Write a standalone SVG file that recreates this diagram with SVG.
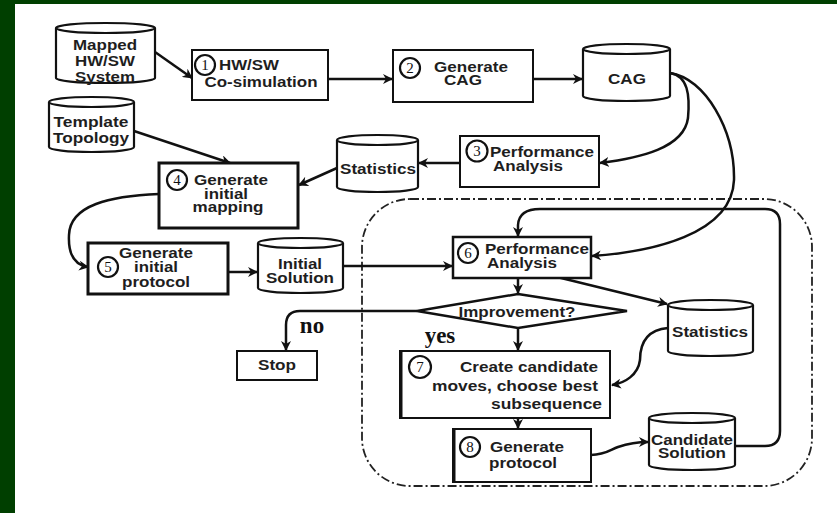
<svg xmlns="http://www.w3.org/2000/svg" width="837" height="513" viewBox="0 0 837 513">
  <style>
    .t { font-family: "Liberation Sans", Arial, sans-serif; font-weight: bold; font-size: 14.5px; fill: #1e1e1e; text-anchor: middle; }
    .r { text-anchor: end; }
    .s { text-anchor: start; }
    .num { font-family: "Liberation Serif", "Times New Roman", serif; font-size: 15px; fill: #111; text-anchor: middle; }
    .lbl { font-family: "Liberation Serif", "Times New Roman", serif; font-weight: bold; font-size: 23px; fill: #111; text-anchor: middle; }
    .box { fill: #fff; stroke: #111; stroke-width: 2; }
    .thick { stroke-width: 3; }
    .cyl { fill: #fff; stroke: #111; stroke-width: 2.2; }
    .circ { fill: #fff; stroke: #111; stroke-width: 2.2; }
    .conn { fill: none; stroke: #111; stroke-width: 2.5; marker-end: url(#arrow); }
    .region { fill: none; stroke: #222; stroke-width: 1.8; stroke-dasharray: 9 3 2 3; }
  </style>
  <defs>
    <marker id="arrow" viewBox="0 0 10 10" refX="9" refY="5" markerWidth="4" markerHeight="4" orient="auto" markerUnits="strokeWidth">
      <path d="M0,0 L10,5 L0,10 L3,5 z" fill="#111"/>
    </marker>
  </defs>

  <!-- frame -->
  <rect x="0" y="0" width="837" height="513" fill="#003f00"/>
  <rect x="15" y="4" width="822" height="509" fill="#ffffff"/>

  <!-- dash-dot region around the optimisation loop -->
  <rect class="region" x="362" y="199" width="450" height="287" rx="48" ry="48"/>

  <!-- connectors -->
  <g id="connectors">
    <path class="conn" d="M155,52 L192,78"/>
    <path class="conn" d="M328,79 L392,79"/>
    <path class="conn" d="M533,79 L582,79"/>
    <path class="conn" d="M670,73 C688,76 690,95 688,118 C684,148 640,158 600,163"/>
    <path class="conn" d="M670,73 C705,78 735,130 734,180 C732,235 650,252 592,256"/>
    <path class="conn" d="M460,163 L419,163"/>
    <path class="conn" d="M337,168 L299,185"/>
    <path class="conn" d="M134,131 L230,163"/>
    <path class="conn" d="M159,194 C110,196 70,205 69,235 C68,255 75,265 88,267"/>
    <path class="conn" d="M228,272 L257,272"/>
    <path class="conn" d="M343,266 L452,266"/>
    <path class="conn" d="M518,278 L518,293"/>
    <path class="conn" d="M557,277 L667,304"/>
    <path class="conn" d="M417,311 H300 Q286,311 286,325 V350"/>
    <path class="conn" d="M518,328 L518,350"/>
    <path class="conn" d="M668,328 C645,330 640,345 640,360 C638,375 625,383 612,385"/>
    <path class="conn" d="M518,418 L518,428"/>
    <path class="conn" d="M591,455 C605,455 610,450 618,447 C630,443 638,442 648,442"/>
    <path class="conn" d="M735,446 H765 Q780,446 780,431 V224 Q780,209 765,209 H540 Q519,209 518,225 V236"/>
  </g>

  <!-- data stores -->
  <g id="mapped-system">
    <path class="cyl" d="M56,28 V78 A49.5,5 0 0 0 155,78 V28"/>
    <ellipse class="cyl" cx="105.5" cy="28" rx="49.5" ry="5"/>
    <text class="t" x="105" y="50" textLength="64" lengthAdjust="spacingAndGlyphs">Mapped</text>
    <text class="t" x="105" y="66" textLength="60" lengthAdjust="spacingAndGlyphs">HW/SW</text>
    <text class="t" x="105" y="82" textLength="60" lengthAdjust="spacingAndGlyphs">System</text>
  </g>
  <g id="template-topology">
    <path class="cyl" d="M49,102 V147 A42.5,5 0 0 0 134,147 V102"/>
    <ellipse class="cyl" cx="91.5" cy="102" rx="42.5" ry="5"/>
    <text class="t" x="91" y="127" textLength="75" lengthAdjust="spacingAndGlyphs">Template</text>
    <text class="t" x="91" y="143" textLength="76" lengthAdjust="spacingAndGlyphs">Topology</text>
  </g>
  <g id="cag">
    <path class="cyl" d="M583,49 V96 A43.5,5 0 0 0 670,96 V49"/>
    <ellipse class="cyl" cx="626.5" cy="49" rx="43.5" ry="5"/>
    <text class="t" x="627" y="84" textLength="38" lengthAdjust="spacingAndGlyphs">CAG</text>
  </g>
  <g id="statistics-initial">
    <path class="cyl" d="M337,140 V187 A40.5,5 0 0 0 418,187 V140"/>
    <ellipse class="cyl" cx="377.5" cy="140" rx="40.5" ry="5"/>
    <text class="t" x="378" y="174" textLength="76" lengthAdjust="spacingAndGlyphs">Statistics</text>
  </g>
  <g id="initial-solution">
    <path class="cyl" d="M258,243 V288 A42.5,5 0 0 0 343,288 V243"/>
    <ellipse class="cyl" cx="300.5" cy="243" rx="42.5" ry="5"/>
    <text class="t" x="300" y="269" textLength="44" lengthAdjust="spacingAndGlyphs">Initial</text>
    <text class="t" x="300" y="283" textLength="68" lengthAdjust="spacingAndGlyphs">Solution</text>
  </g>
  <g id="statistics-loop">
    <path class="cyl" d="M668,305 V351 A42.5,5 0 0 0 753,351 V305"/>
    <ellipse class="cyl" cx="710.5" cy="305" rx="42.5" ry="5"/>
    <text class="t" x="710" y="337" textLength="76" lengthAdjust="spacingAndGlyphs">Statistics</text>
  </g>
  <g id="candidate-solution">
    <path class="cyl" d="M649,418 V465 A43,5 0 0 0 735,465 V418"/>
    <ellipse class="cyl" cx="692" cy="418" rx="43" ry="5"/>
    <text class="t" x="692" y="445" textLength="82" lengthAdjust="spacingAndGlyphs">Candidate</text>
    <text class="t" x="692" y="458" textLength="68" lengthAdjust="spacingAndGlyphs">Solution</text>
  </g>

  <!-- process steps -->
  <g id="step1">
    <rect class="box" x="192" y="50" width="136" height="50"/>
    <circle class="circ" cx="205" cy="65" r="10"/>
    <text class="num" x="205" y="70">1</text>
    <text class="t s" x="219" y="70" textLength="60" lengthAdjust="spacingAndGlyphs">HW/SW</text>
    <text class="t" x="261" y="87" textLength="113" lengthAdjust="spacingAndGlyphs">Co-simulation</text>
  </g>
  <g id="step2">
    <rect class="box" x="393" y="50" width="140" height="52"/>
    <circle class="circ" cx="410" cy="68" r="10"/>
    <text class="num" x="410" y="73">2</text>
    <text class="t" x="471" y="72" textLength="74" lengthAdjust="spacingAndGlyphs">Generate</text>
    <text class="t" x="463" y="85" textLength="38" lengthAdjust="spacingAndGlyphs">CAG</text>
  </g>
  <g id="step3">
    <rect class="box" x="460" y="136" width="139" height="51"/>
    <circle class="circ" cx="477" cy="151" r="10.5"/>
    <text class="num" x="477" y="156">3</text>
    <text class="t" x="542" y="157" textLength="104" lengthAdjust="spacingAndGlyphs">Performance</text>
    <text class="t" x="528" y="171" textLength="70" lengthAdjust="spacingAndGlyphs">Analysis</text>
  </g>
  <g id="step4">
    <rect class="box thick" x="159" y="163" width="139" height="65"/>
    <circle class="circ" cx="177" cy="180" r="10"/>
    <text class="num" x="177" y="185">4</text>
    <text class="t" x="231" y="185" textLength="74" lengthAdjust="spacingAndGlyphs">Generate</text>
    <text class="t" x="226" y="199" textLength="44" lengthAdjust="spacingAndGlyphs">initial</text>
    <text class="t" x="228" y="212" textLength="71" lengthAdjust="spacingAndGlyphs">mapping</text>
  </g>
  <g id="step5">
    <rect class="box thick" x="88" y="243" width="140" height="51"/>
    <circle class="circ" cx="108" cy="267" r="10"/>
    <text class="num" x="108" y="272">5</text>
    <text class="t" x="156" y="258" textLength="74" lengthAdjust="spacingAndGlyphs">Generate</text>
    <text class="t" x="156" y="272" textLength="44" lengthAdjust="spacingAndGlyphs">initial</text>
    <text class="t" x="156" y="287" textLength="68" lengthAdjust="spacingAndGlyphs">protocol</text>
  </g>
  <g id="step6">
    <rect class="box" x="453" y="237" width="138" height="41" style="stroke-width:2.5"/>
    <circle class="circ" cx="468" cy="253" r="10"/>
    <text class="num" x="468" y="258">6</text>
    <text class="t" x="537" y="254" textLength="104" lengthAdjust="spacingAndGlyphs">Performance</text>
    <text class="t" x="522" y="268" textLength="70" lengthAdjust="spacingAndGlyphs">Analysis</text>
  </g>
  <g id="improvement">
    <polygon class="box" points="518,294 627,311 518,328 417,311" style="stroke-width:2.5"/>
    <text class="t" x="517" y="317" textLength="117" lengthAdjust="spacingAndGlyphs">Improvement?</text>
  </g>
  <g id="stop">
    <rect class="box" x="237" y="351" width="80" height="29"/>
    <text class="t" x="277" y="370" textLength="38" lengthAdjust="spacingAndGlyphs">Stop</text>
  </g>
  <g id="step7">
    <rect class="box" x="400" y="351" width="210" height="67"/>
    <line x1="401" y1="351" x2="401" y2="418" stroke="#111" stroke-width="3"/>
    <circle class="circ" cx="420" cy="367" r="11"/>
    <text class="num" x="420" y="372">7</text>
    <text class="t r" x="598" y="372" textLength="138" lengthAdjust="spacingAndGlyphs">Create candidate</text>
    <text class="t r" x="598" y="391" textLength="166" lengthAdjust="spacingAndGlyphs">moves, choose best</text>
    <text class="t r" x="602" y="409" textLength="111" lengthAdjust="spacingAndGlyphs">subsequence</text>
  </g>
  <g id="step8">
    <rect class="box" x="453" y="429" width="138" height="53"/>
    <line x1="454" y1="429" x2="454" y2="482" stroke="#111" stroke-width="3"/>
    <circle class="circ" cx="470" cy="447" r="10"/>
    <text class="num" x="470" y="452">8</text>
    <text class="t" x="527" y="452" textLength="74" lengthAdjust="spacingAndGlyphs">Generate</text>
    <text class="t" x="523" y="468" textLength="68" lengthAdjust="spacingAndGlyphs">protocol</text>
  </g>

  <!-- branch labels -->
  <text class="lbl" x="312" y="333">no</text>
  <text class="lbl" x="440" y="343">yes</text>
</svg>
